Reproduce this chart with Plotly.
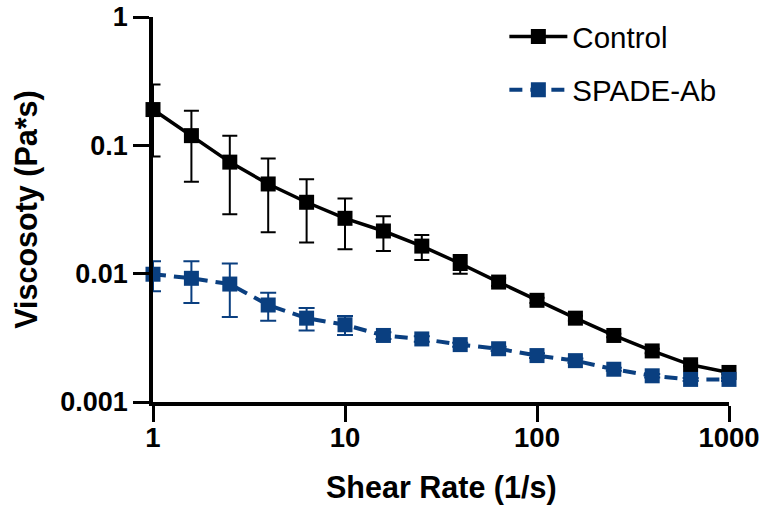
import plotly.graph_objects as go

# Shear rate sweep (1/s), 5 points per decade
shear_rate = [1, 1.585, 2.512, 3.981, 6.31, 10, 15.85, 25.12, 39.81, 63.1,
              100, 158.5, 251.2, 398.1, 631, 1000]

# Viscosity (Pa*s), mean and SD
control = [0.19, 0.119, 0.074, 0.050, 0.036, 0.027, 0.0215, 0.0164, 0.012, 0.0086,
           0.0062, 0.0045, 0.0033, 0.0025, 0.00195, 0.0017]
control_sd = [0.108, 0.067, 0.045, 0.029, 0.0185, 0.0115, 0.0065, 0.0036, 0.002, 0.0006,
              0.0003, 0.0002, 0.0001, 0.0001, 0.00005, 0.00005]

spade_ab = [0.0099, 0.0092, 0.0083, 0.0057, 0.0045, 0.0040, 0.0033, 0.0031, 0.0028, 0.0026,
            0.0023, 0.0021, 0.0018, 0.0016, 0.0015, 0.0015]
spade_ab_sd = [0.0026, 0.0033, 0.0037, 0.0014, 0.0009, 0.00067, 0.0002, 0.00015, 0.0001, 0.0001,
               0.0001, 0.00008, 0.00005, 0.00005, 0.00004, 0.00004]

y_ticks = [1, 0.1, 0.01, 0.001]
y_tick_labels = ["1", "0.1", "0.01", "0.001"]
x_ticks = [1, 10, 100, 1000]
x_tick_labels = ["1", "10", "100", "1000"]

BLUE = "#0A3F80"
FONT = "Liberation Sans, Arial, sans-serif"

fig = go.Figure()

fig.add_trace(go.Scatter(
    x=shear_rate, y=control, name="Control", legendgroup="c",
    mode="lines+markers",
    line=dict(color="black", width=3.5),
    marker=dict(symbol="square", size=15, color="black"),
    error_y=dict(type="data", array=control_sd, visible=True,
                 color="black", thickness=2, width=7.5),
    cliponaxis=False,
))

fig.add_trace(go.Scatter(
    x=shear_rate, y=spade_ab, name="SPADE-Ab", legendgroup="s",
    mode="lines+markers",
    line=dict(color=BLUE, width=4, dash="13px,8px"),
    marker=dict(symbol="square", size=15, color=BLUE),
    error_y=dict(type="data", array=spade_ab_sd, visible=True,
                 color=BLUE, thickness=2, width=8),
    cliponaxis=False,
))

axis_common = dict(
    showline=True, linecolor="black", linewidth=3.5,
    ticks="outside", ticklen=16, tickwidth=3, tickcolor="black",
    showgrid=False, zeroline=False,
)

fig.update_xaxes(type="log", range=[0, 3], tickvals=x_ticks, ticktext=x_tick_labels,
                 ticklabelstandoff=-8,
                 tickfont=dict(family=FONT, size=27.5, color="black", weight="bold"),
                 **axis_common)
fig.update_yaxes(type="log", range=[-3, 0], tickvals=y_ticks, ticktext=y_tick_labels,
                 ticklabelstandoff=0,
                 tickfont=dict(family=FONT, size=27, color="black", weight="bold"),
                 **axis_common)

fig.add_annotation(text="Shear Rate (1/s)", xref="paper", yref="paper",
                   x=0.5, y=-0.221, xanchor="center", yanchor="middle", showarrow=False,
                   font=dict(family=FONT, size=30.5, color="black", weight="bold"))
fig.add_annotation(text="Viscosoty (Pa*s)", xref="paper", yref="paper",
                   x=-0.22, y=0.5, xanchor="center", yanchor="middle", showarrow=False,
                   textangle=-90,
                   font=dict(family=FONT, size=30.5, color="black", weight="bold"))

fig.update_layout(
    width=766, height=513,
    margin=dict(l=153, r=37, t=17, b=111, autoexpand=False),
    paper_bgcolor="white", plot_bgcolor="white",
    showlegend=True,
    legend=dict(x=0.61, y=1.016, xanchor="left", yanchor="top",
                font=dict(family=FONT, size=29.5, color="black"),
                traceorder="grouped", tracegroupgap=12,
                bgcolor="rgba(0,0,0,0)", itemwidth=58),
)

fig.write_html("out.html")
